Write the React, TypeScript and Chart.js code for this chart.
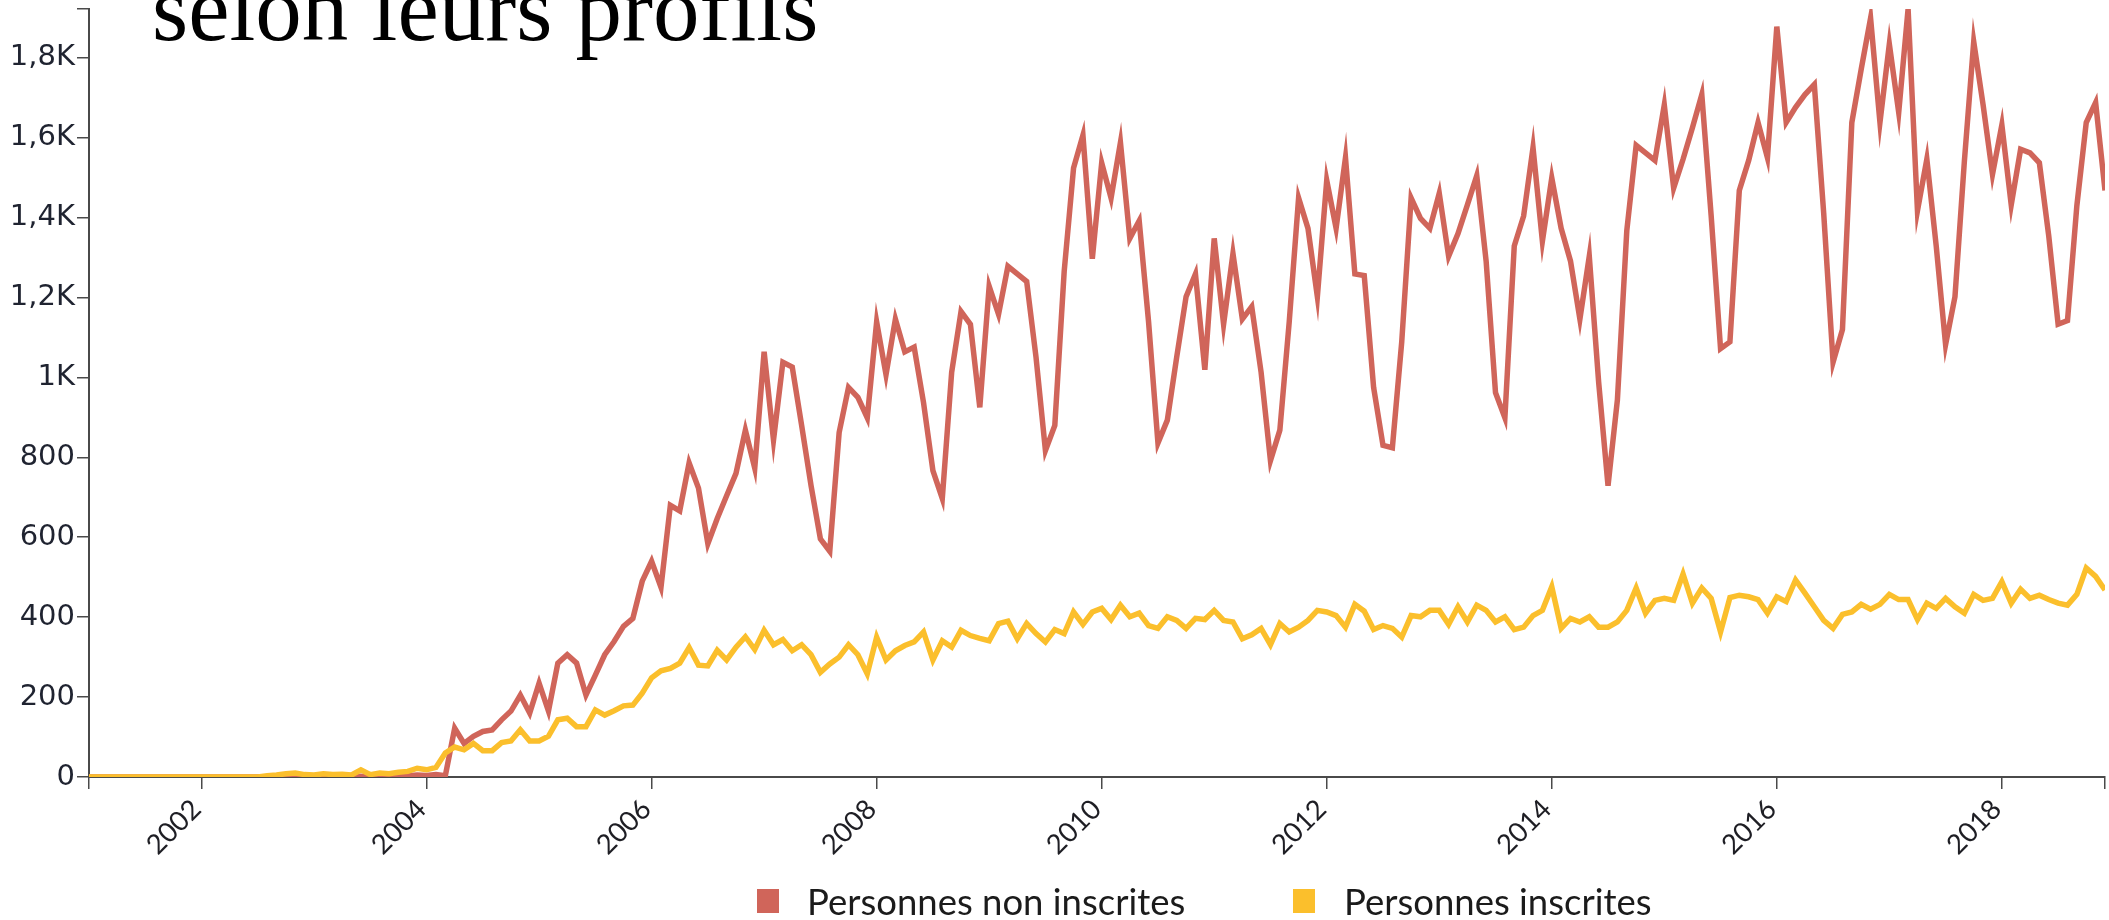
import React, { useEffect, useRef } from 'react';
import { Chart, registerables } from 'chart.js';

Chart.register(...registerables);

// Monthly series, January 2001 -> December 2018 (one row per year)
const START_YEAR = 2001;

const nonInscrites = [
  0, 0, 0, 0, 0, 0, 0, 0, 0, 0, 0, 0, // 2001
  0, 0, 0, 0, 0, 0, 0, 0, 2, 3, 4, 2, // 2002
  3, 0, 0, 1, 0, 2, 0, 1, 2, 0, 3, 5, // 2003
  4, 6, 3, 122, 84, 102, 114, 118, 143, 165, 205, 160, // 2004
  235, 165, 285, 306, 285, 205, 255, 306, 339, 377, 397, 490, // 2005
  540, 475, 680, 666, 786, 723, 584, 647, 704, 760, 868, 773, // 2006
  1064, 843, 1038, 1026, 880, 730, 596, 565, 862, 975, 950, 899, // 2007
  1139, 1007, 1146, 1064, 1076, 937, 767, 697, 1013, 1165, 1133, 925, // 2008
  1228, 1158, 1278, 1259, 1240, 1050, 817, 880, 1265, 1524, 1606, 1297, // 2009
  1537, 1449, 1588, 1348, 1392, 1139, 836, 893, 1051, 1202, 1259, 1019, // 2010
  1348, 1133, 1310, 1146, 1177, 1013, 792, 868, 1139, 1449, 1373, 1202, // 2011
  1493, 1373, 1550, 1259, 1255, 975, 830, 824, 1089, 1449, 1398, 1373, // 2012
  1461, 1303, 1360, 1432, 1505, 1291, 962, 899, 1329, 1404, 1575, 1341, // 2013
  1499, 1373, 1291, 1146, 1303, 988, 729, 944, 1367, 1581, 1562, 1543, // 2014
  1682, 1474, 1546, 1625, 1708, 1404, 1072, 1089, 1468, 1543, 1638, 1550, // 2015
  1878, 1638, 1676, 1708, 1733, 1411, 1038, 1120, 1638, 1771, 1899, 1638, // 2016
  1834, 1663, 1922, 1417, 1546, 1329, 1082, 1202, 1540, 1840, 1682, 1508, // 2017
  1632, 1432, 1571, 1562, 1537, 1354, 1133, 1142, 1430, 1638, 1688, 1468, // 2018
];

const inscrites = [
  0, 0, 0, 0, 0, 0, 0, 0, 0, 0, 0, 0, // 2001
  0, 0, 0, 0, 0, 0, 0, 3, 5, 8, 10, 6, // 2002
  5, 8, 6, 7, 5, 18, 6, 10, 8, 12, 14, 22, // 2003
  18, 24, 60, 75, 68, 84, 66, 66, 86, 90, 118, 90, // 2004
  90, 102, 143, 147, 126, 126, 168, 155, 166, 178, 180, 210, // 2005
  248, 266, 272, 285, 324, 280, 278, 317, 293, 325, 351, 319, // 2006
  367, 331, 344, 316, 331, 306, 262, 283, 300, 331, 306, 258, // 2007
  350, 293, 316, 329, 338, 363, 293, 341, 325, 367, 354, 347, // 2008
  341, 384, 390, 346, 384, 359, 338, 369, 359, 413, 382, 413, // 2009
  422, 394, 430, 401, 410, 379, 372, 401, 392, 372, 397, 394, // 2010
  417, 392, 388, 346, 356, 372, 331, 384, 363, 375, 392, 417, // 2011
  413, 404, 375, 432, 415, 369, 379, 372, 350, 404, 401, 417, // 2012
  417, 382, 426, 388, 430, 417, 388, 401, 369, 375, 404, 417, // 2013
  476, 372, 397, 388, 401, 375, 375, 388, 417, 473, 410, 442, // 2014
  447, 442, 508, 435, 473, 447, 363, 449, 455, 451, 444, 410, // 2015
  451, 439, 493, 460, 426, 392, 372, 407, 413, 432, 420, 432, // 2016
  457, 444, 444, 394, 435, 422, 447, 426, 410, 457, 442, 447, // 2017
  489, 435, 470, 447, 455, 444, 435, 430, 457, 523, 502, 468, // 2018
];

const seriesLabels = ['Personnes non inscrites', 'Personnes inscrites'];
const yearTicks = [2002, 2004, 2006, 2008, 2010, 2012, 2014, 2016, 2018];
const yTicks = [0, 200, 400, 600, 800, 1000, 1200, 1400, 1600, 1800];
const titleText = 'selon leurs profils';

const RED = '#D0655A';
const YELLOW = '#FBBF2C';
const AXIS = '#4a4a4a';

function formatK(v: number): string {
  if (v < 1000) return String(v);
  return String(v / 1000).replace('.', ',') + 'K';
}

export default function App() {
  const canvasRef = useRef<HTMLCanvasElement | null>(null);

  useEffect(() => {
    document.body.style.margin = '0';
    const canvas = canvasRef.current;
    if (!canvas) return;
    const xs = nonInscrites.map((_, i) => START_YEAR + i / 12);
    const xMin = xs[0];
    const xMax = xs[xs.length - 1];
    const yMax = Math.max(...nonInscrites, ...inscrites);

    const chart = new Chart(canvas, {
      type: 'line',
      data: {
        datasets: [
          {
            label: seriesLabels[0],
            data: xs.map((x, i) => ({ x, y: nonInscrites[i] })),
            borderColor: RED,
            backgroundColor: RED,
            borderWidth: 5.5,
            pointRadius: 0,
            tension: 0,
            fill: false,
            order: 2,
          },
          {
            label: seriesLabels[1],
            data: xs.map((x, i) => ({ x, y: inscrites[i] })),
            borderColor: YELLOW,
            backgroundColor: YELLOW,
            borderWidth: 5.5,
            pointRadius: 0,
            tension: 0,
            fill: false,
            order: 1,
          },
        ],
      },
      options: {
        animation: false,
        responsive: false,
        devicePixelRatio: 1,
        layout: { padding: { top: 9, right: 4, left: 0, bottom: 0 } },
        plugins: {
          legend: { display: false },
          tooltip: { enabled: false },
          title: { display: false },
        },
        scales: {
          x: {
            type: 'linear',
            min: xMin,
            max: xMax,
            afterBuildTicks: (s: any) => {
              s.ticks = [xMin, ...yearTicks, xMax].map((v) => ({ value: v }));
            },
            afterFit: (s: any) => {
              s.height = 143;
              s.paddingLeft = 0;
              s.paddingRight = 0;
            },
            border: { display: true, color: AXIS, width: 2 },
            grid: {
              drawOnChartArea: false,
              drawTicks: true,
              tickLength: 12,
              color: AXIS,
              lineWidth: 1.5,
            },
            ticks: {
              autoSkip: false,
              minRotation: 45,
              maxRotation: 45,
              padding: 4,
              labelOffset: -5,
              color: '#1e1e24',
              font: { family: 'Lato', size: 27.5 },
              callback: (v: any) => (yearTicks.includes(Number(v)) ? String(v) : ''),
            },
          },
          y: {
            type: 'linear',
            min: 0,
            max: yMax,
            afterBuildTicks: (s: any) => {
              s.ticks = [...yTicks, yMax].map((v) => ({ value: v }));
            },
            afterFit: (s: any) => {
              s.width = 89;
              s.paddingTop = 0;
              s.paddingBottom = 0;
            },
            border: { display: true, color: AXIS, width: 2 },
            grid: {
              drawOnChartArea: false,
              drawTicks: true,
              tickLength: 12,
              color: AXIS,
              lineWidth: 1.5,
            },
            ticks: {
              padding: 2,
              color: '#1f2330',
              font: { family: 'DejaVu Sans', size: 29 },
              callback: (v: any) => (yTicks.includes(Number(v)) ? formatK(Number(v)) : ''),
            },
          },
        },
      },
    });
    return () => chart.destroy();
  }, []);

  const legendText: React.CSSProperties = {
    position: 'absolute',
    top: 883,
    fontFamily: 'Lato',
    fontSize: 36.5,
    lineHeight: '36.5px',
    color: '#1b1b1b',
    whiteSpace: 'nowrap',
  };
  const square: React.CSSProperties = {
    position: 'absolute',
    top: 889,
    width: 22,
    height: 24,
  };

  return (
    <div
      style={{
        position: 'relative',
        width: 2109,
        height: 920,
        overflow: 'hidden',
        background: '#ffffff',
      }}
    >
      <canvas
        ref={canvasRef}
        width={2109}
        height={920}
        style={{ position: 'absolute', left: 0, top: 0, width: 2109, height: 920 }}
      />
      <div
        style={{
          position: 'absolute',
          left: 152,
          top: -38,
          fontFamily: '"Liberation Serif"',
          fontSize: 93,
          lineHeight: '93px',
          color: '#000',
          whiteSpace: 'nowrap',
        }}
      >
        {titleText}
      </div>
      <div style={{ ...square, left: 757, background: RED }} />
      <div style={{ ...legendText, left: 807 }}>{seriesLabels[0]}</div>
      <div style={{ ...square, left: 1293, background: YELLOW }} />
      <div style={{ ...legendText, left: 1344 }}>{seriesLabels[1]}</div>
    </div>
  );
}
